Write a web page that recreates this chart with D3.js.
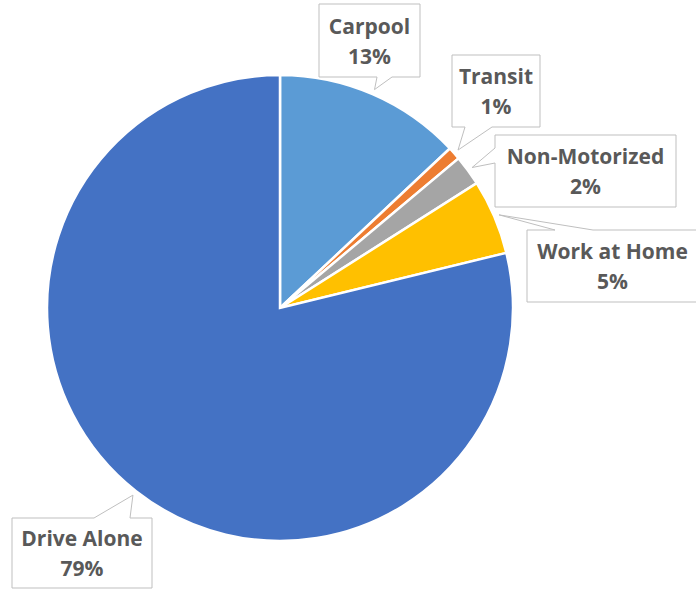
<!DOCTYPE html>
<html><head><meta charset="utf-8">
<script src="https://cdn.jsdelivr.net/npm/d3@7"></script>
<style>html,body{margin:0;padding:0;background:#fff;}svg{display:block;}</style>
</head><body>
<script>
// ---- data ----
const categories = ["Carpool", "Transit", "Non-Motorized", "Work at Home", "Drive Alone"];
const shares = [13.0, 0.9, 2.1, 5.2, 78.8];
const colors = ["#5B9BD5", "#ED7D31", "#A5A5A5", "#FFC000", "#4472C4"];

// ---- layout (label boxes) ----
// cx, cy: box centre; w, h: box size; side: edge carrying the pointer; b0,b1: pointer base along that edge (offset from box left/top)
const labelLayout = [
  {cx: 369.5, cy: 40.5, w: 101, h: 73, side: "bottom", b0: 58, b1: 73},
  {cx: 496,   cy: 91,   w: 88,  h: 72, side: "bottom", b0: 13, b1: 40},
  {cx: 585.5, cy: 171,  w: 181, h: 72, side: "left",   b0: 13, b1: 28},
  {cx: 612.5, cy: 266,  w: 171, h: 72, side: "top",    b0: 28, b1: 66},
  {cx: 82,    cy: 553,  w: 140, h: 70, side: "top",    b0: 82, b1: 118}
];

const W = 696, H = 589;
const cx = 280, cy = 308, R = 233;

const svg = d3.select("body").append("svg").attr("width", W).attr("height", H);
const g = svg.append("g").attr("transform", `translate(${cx},${cy})`);

const data = categories.map((c, i) => ({name: c, value: shares[i], color: colors[i]}));
const total = d3.sum(shares);
const pie = d3.pie().value(d => d.value).sort(null);
const arcs = pie(data);
const arc = d3.arc().innerRadius(0).outerRadius(R);

g.selectAll("path.slice").data(arcs).enter().append("path")
  .attr("class", "slice")
  .attr("d", arc)
  .attr("fill", d => d.data.color)
  .attr("stroke", "#fff")
  .attr("stroke-width", 2.5)
  .attr("stroke-linejoin", "miter");

// ---- callouts ----
const lab = svg.append("g");
arcs.forEach((a, i) => {
  const L = labelLayout[i];
  const mid = (a.startAngle + a.endAngle) / 2;
  const tr = R + 5;
  const tx = cx + tr * Math.sin(mid), ty = cy - tr * Math.cos(mid);
  const x0 = L.cx - L.w / 2, y0 = L.cy - L.h / 2, x1 = x0 + L.w, y1 = y0 + L.h;
  let p;
  if (L.side === "bottom") {
    p = `M${x0},${y0}H${x1}V${y1}H${x0 + L.b1}L${tx},${ty}L${x0 + L.b0},${y1}H${x0}Z`;
  } else if (L.side === "top") {
    p = `M${x0},${y0}H${x0 + L.b0}L${tx},${ty}L${x0 + L.b1},${y0}H${x1}V${y1}H${x0}Z`;
  } else if (L.side === "left") {
    p = `M${x0},${y0}H${x1}V${y1}H${x0}V${y0 + L.b1}L${tx},${ty}L${x0},${y0 + L.b0}Z`;
  }
  lab.append("path").attr("d", p)
    .attr("fill", "#fff").attr("stroke", "#BFBFBF").attr("stroke-width", 1);
  const t = lab.append("text")
    .attr("text-anchor", "middle")
    .attr("font-family", "'Open Sans', sans-serif")
    .attr("font-weight", 700)
    .attr("font-size", 21)
    .attr("fill", "#595959");
  t.append("tspan").attr("x", L.cx).attr("y", L.cy - 7).text(a.data.name);
  t.append("tspan").attr("x", L.cx).attr("y", L.cy + 23)
    .text(Math.round(a.data.value / total * 100) + "%");
});
</script>
</body></html>
